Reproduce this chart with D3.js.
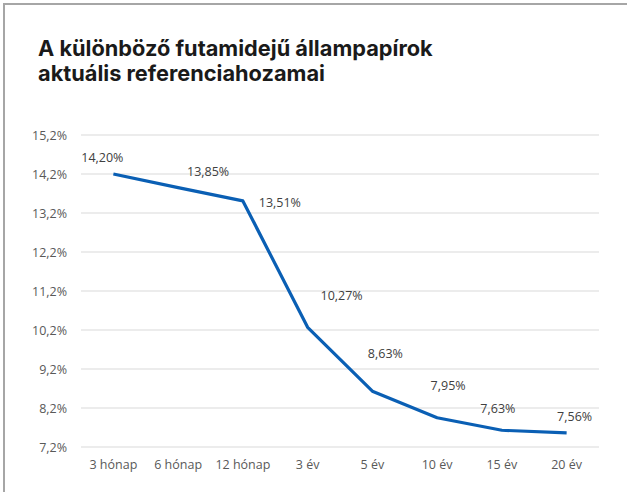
<!DOCTYPE html>
<html><head><meta charset="utf-8">
<script src="https://cdn.jsdelivr.net/npm/d3@7"></script>
<style>body{margin:0;background:#fff}svg{display:block}</style>
</head><body>
<svg id="c" width="627" height="492"></svg>
<script>
const titleLines = ["A különböző futamidejű állampapírok", "aktuális referenciahozamai"];
const categories = ["3 hónap","6 hónap","12 hónap","3 év","5 év","10 év","15 év","20 év"];
const yields = [14.20, 13.85, 13.51, 10.27, 8.63, 7.95, 7.63, 7.56];
const yTicks = [7.2, 8.2, 9.2, 10.2, 11.2, 12.2, 13.2, 14.2, 15.2];
// data-label nudges (px) relative to each point, as in the reference
const labelOffsets = [[-11,-12],[30,-12],[37,6],[34,-27],[13,-33],[11,-28],[-4,-17],[8,-12]];

const svg = d3.select("#c");
const fmt = v => v.toFixed(2).replace(".", ",") + "%";
const fmtTick = v => v.toFixed(1).replace(".", ",") + "%";

// border
svg.append("rect").attr("x",4).attr("y",4).attr("width",640).attr("height",500)
  .attr("fill","none").attr("stroke","#a6a6a6").attr("stroke-width",2);

// title: one font size, fitted so the second line matches the reference width
const titles = titleLines.map((t,i) => svg.append("text").attr("x",38).attr("y",56 + i*25)
    .attr("font-family","Inter, 'Noto Sans', sans-serif").attr("font-weight",700)
    .attr("font-size",21).attr("fill","#1a1a1a").text(t));
const w2 = titles[1].node().getComputedTextLength();
const fs = Math.min(22, 21 * 287 / w2);
titles.forEach(tx => tx.attr("font-size", fs));

const x = d3.scaleBand().domain(categories).range([81, 599]);
const y = d3.scaleLinear().domain([7.2, 15.2]).range([447, 135]);

// gridlines
svg.append("g").selectAll("line").data(yTicks).join("line")
  .attr("x1",81).attr("x2",599).attr("y1",d=>y(d)).attr("y2",d=>y(d))
  .attr("stroke","#d9d9d9").attr("stroke-width",1);

// y axis labels
const yAxis = d3.axisLeft(y).tickValues(yTicks).tickFormat(fmtTick).tickSize(0).tickPadding(14);
const gy = svg.append("g").attr("transform","translate(81,0)").call(yAxis);
gy.select(".domain").remove();
gy.selectAll("text").attr("font-family","'Open Sans', sans-serif").attr("font-size",12.5).attr("fill","#595959");

// x axis labels
const xAxis = d3.axisBottom(x).tickSize(0).tickPadding(13);
const gx = svg.append("g").attr("transform","translate(0,447)").call(xAxis);
gx.select(".domain").remove();
gx.selectAll("text").attr("font-family","'Open Sans', sans-serif").attr("font-size",12.5).attr("fill","#595959");

// line
const pts = categories.map((c,i)=>({c, v:yields[i], i}));
const line = d3.line().x(d=>x(d.c)+x.bandwidth()/2).y(d=>y(d.v));
svg.append("path").datum(pts).attr("d",line).attr("fill","none")
  .attr("stroke","#0a5fb4").attr("stroke-width",3.2).attr("stroke-linejoin","round");

// data labels
svg.append("g").selectAll("text").data(pts).join("text")
  .attr("x",d=>x(d.c)+x.bandwidth()/2 + labelOffsets[d.i][0])
  .attr("y",d=>y(d.v) + labelOffsets[d.i][1])
  .attr("text-anchor","middle")
  .attr("font-family","'Open Sans', sans-serif").attr("font-size",12.5).attr("fill","#404040")
  .text(d=>fmt(d.v));
</script>
</body></html>
